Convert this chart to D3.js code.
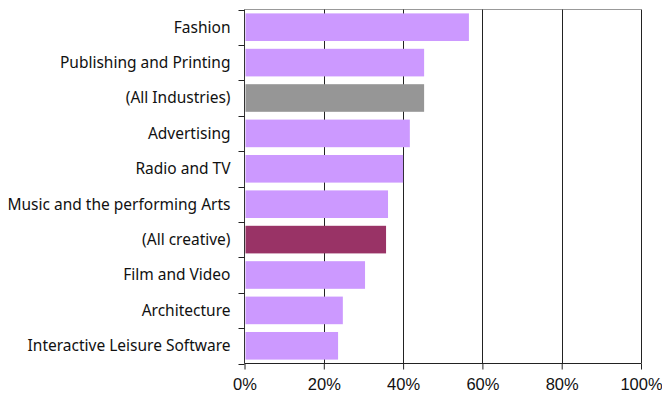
<!DOCTYPE html>
<html>
<head>
<meta charset="utf-8">
<script src="https://cdn.jsdelivr.net/npm/d3@7"></script>
<style>
  html, body { margin: 0; padding: 0; background: #fff; }
  svg { display: block; font-family: "Noto Sans", "Open Sans", sans-serif; }
</style>
</head>
<body>
<svg id="chart" width="662" height="398"></svg>
<script>
// Share of workforce by industry
const categories = [
  "Fashion",
  "Publishing and Printing",
  "(All Industries)",
  "Advertising",
  "Radio and TV",
  "Music and the performing Arts",
  "(All creative)",
  "Film and Video",
  "Architecture",
  "Interactive Leisure Software"
];
const values = [56.6, 45.3, 45.3, 41.7, 40.0, 36.2, 35.7, 30.4, 24.8, 23.6];
const xTicks = [0, 20, 40, 60, 80, 100];
const tickLabels = ["0%", "20%", "40%", "60%", "80%", "100%"];

const barColor = d => d === "(All Industries)" ? "#969696"
                    : d === "(All creative)" ? "#993366" : "#CC99FF";

const svg = d3.select("#chart");
const margin = { left: 244.5, right: 21, top: 9.5, bottom: 34.5 };
const W = 662, H = 398;

const x = d3.scaleLinear().domain([0, 100]).range([margin.left, W - margin.right]);
const y = d3.scaleBand().domain(categories).range([margin.top, H - margin.bottom])
  .paddingInner(0.22).paddingOuter(0.11);

// Plot frame top edge
svg.append("line")
  .attr("x1", x(0)).attr("x2", x(100))
  .attr("y1", margin.top).attr("y2", margin.top)
  .attr("stroke", "#999").attr("stroke-width", 1);

// Vertical gridlines
svg.append("g")
  .selectAll("line")
  .data(xTicks.filter(t => t > 0))
  .join("line")
  .attr("x1", d => Math.round(x(d)) + 0.5).attr("x2", d => Math.round(x(d)) + 0.5)
  .attr("y1", margin.top).attr("y2", H - margin.bottom)
  .attr("stroke", "#222").attr("stroke-width", 1);

// Bars
svg.append("g")
  .selectAll("rect")
  .data(categories)
  .join("rect")
  .attr("x", x(0) + 1)
  .attr("y", d => y(d))
  .attr("width", (d, i) => x(values[i]) - x(0) - 1)
  .attr("height", y.bandwidth())
  .attr("fill", d => barColor(d));

// Bottom axis
const xAxis = d3.axisBottom(x)
  .tickValues(xTicks)
  .tickFormat((d, i) => tickLabels[i])
  .tickSize(6).tickPadding(9);
const gx = svg.append("g")
  .attr("transform", `translate(0,${H - margin.bottom})`)
  .call(xAxis);
gx.select(".domain").attr("stroke", "#222").attr("d", `M${x(0)},0H${x(100)}`);
gx.selectAll(".tick line").attr("stroke", "#222");
gx.selectAll(".tick text").attr("fill", "#111").style("font-size", "16.5px");

// Left axis: ticks sit between categories
const gy = svg.append("g");
gy.append("line")
  .attr("x1", margin.left).attr("x2", margin.left)
  .attr("y1", margin.top).attr("y2", H - margin.bottom)
  .attr("stroke", "#333");
const boundaries = d3.range(categories.length + 1).map(i => margin.top + i * (H - margin.top - margin.bottom) / categories.length);
gy.selectAll("line.tk")
  .data(boundaries)
  .join("line")
  .attr("class", "tk")
  .attr("x1", margin.left - 6).attr("x2", margin.left)
  .attr("y1", d => Math.round(d) + 0.5).attr("y2", d => Math.round(d) + 0.5)
  .attr("stroke", "#222");
gy.selectAll("text")
  .data(categories)
  .join("text")
  .attr("x", margin.left - 14)
  .attr("y", d => y(d) + y.bandwidth() / 2)
  .attr("dy", "0.35em")
  .attr("text-anchor", "end")
  .attr("fill", "#111")
  .style("font-size", "15.5px")
  .text(d => d);
</script>
</body>
</html>
